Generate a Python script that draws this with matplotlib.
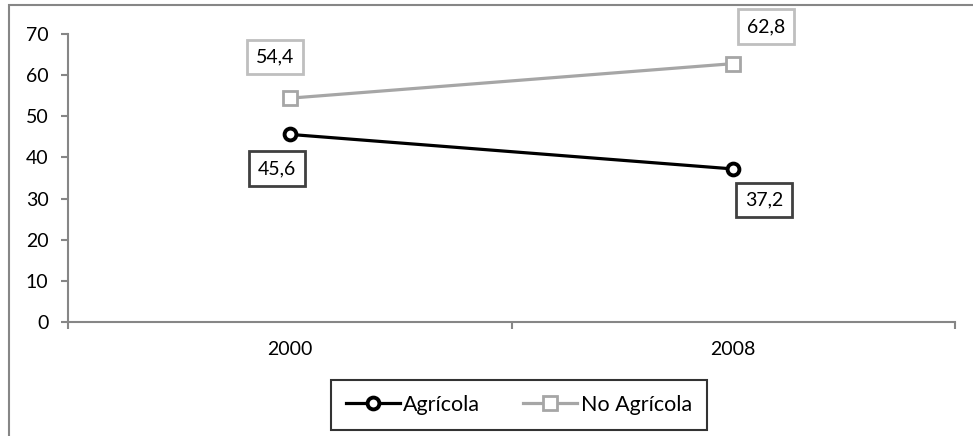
import matplotlib
matplotlib.use("Agg")
import matplotlib.pyplot as plt
from matplotlib.patches import Rectangle

plt.rcParams["font.family"] = ["Lato", "DejaVu Sans"]

years = ["2000", "2008"]
agricola = [45.6, 37.2]
no_agricola = [54.4, 62.8]

# label offsets in pixels (dx, dy) from each point
agr_offsets = [(-13, -34), (31, -31)]
noagr_offsets = [(-15, 41), (33, 37)]

FS = 14

fig = plt.figure(figsize=(9.73, 4.36), dpi=100)
ax = fig.add_axes([68 / 973, 114 / 436, 887 / 973, 288 / 436])

# outer chart frame (only top and left edges fall inside the image)
fig.patches.append(Rectangle((9 / 973, -0.1), 1.2, (431 / 436) + 0.1,
                             transform=fig.transFigure, fill=False,
                             edgecolor="#868686", linewidth=1.5))

xs = [0.5, 1.5]
ax.plot(xs, agricola, color="black", linewidth=2.3, marker="o",
        markersize=8.5, markerfacecolor="white", markeredgecolor="black",
        markeredgewidth=2.8, label="Agrícola", zorder=3)
ax.plot(xs, no_agricola, color="#a6a6a6", linewidth=2.3, marker="s",
        markersize=9.5, markerfacecolor="white", markeredgecolor="#a6a6a6",
        markeredgewidth=2.0, label="No Agrícola", zorder=3)

def fmt(v):
    return f"{v:.1f}".replace(".", ",")

for x, v, (dx, dy) in zip(xs, agricola, agr_offsets):
    ax.annotate(fmt(v), (x, v), xytext=(dx * 0.72, dy * 0.72),
                textcoords="offset points", ha="center", va="center",
                fontsize=FS,
                bbox=dict(boxstyle="square,pad=0.45", fc="white",
                          ec="#404040", lw=2.0))
for x, v, (dx, dy) in zip(xs, no_agricola, noagr_offsets):
    ax.annotate(fmt(v), (x, v), xytext=(dx * 0.72, dy * 0.72),
                textcoords="offset points", ha="center", va="center",
                fontsize=FS,
                bbox=dict(boxstyle="square,pad=0.45", fc="white",
                          ec="#bfbfbf", lw=2.0))

ax.set_xlim(0, 2)
ax.set_ylim(0, 70)
ax.set_yticks(range(0, 71, 10))
ax.set_xticks([0, 1, 2])
ax.set_xticklabels([])
ax.set_xticks(xs, minor=True)
ax.set_xticklabels(years, minor=True)

for side in ["top", "right"]:
    ax.spines[side].set_visible(False)
for side in ["left", "bottom"]:
    ax.spines[side].set_color("#868686")
    ax.spines[side].set_linewidth(1.5)

ax.tick_params(axis="y", direction="out", length=5, width=1.5,
               color="#868686", pad=9, labelsize=FS)
ax.tick_params(axis="x", which="major", direction="out", length=5,
               width=1.5, color="#868686")
ax.tick_params(axis="x", which="minor", length=0, pad=14, labelsize=FS)

leg = fig.legend(loc="center", bbox_to_anchor=(519 / 973, 1 - 405 / 436),
                 ncol=2, frameon=True, fontsize=15.5, handlelength=2.5,
                 columnspacing=2.0, handletextpad=0.15, borderpad=0.7,
                 borderaxespad=0, fancybox=False)
leg.get_frame().set_edgecolor("black")
leg.get_frame().set_linewidth(1.5)

fig.savefig("out.png", dpi=100)
